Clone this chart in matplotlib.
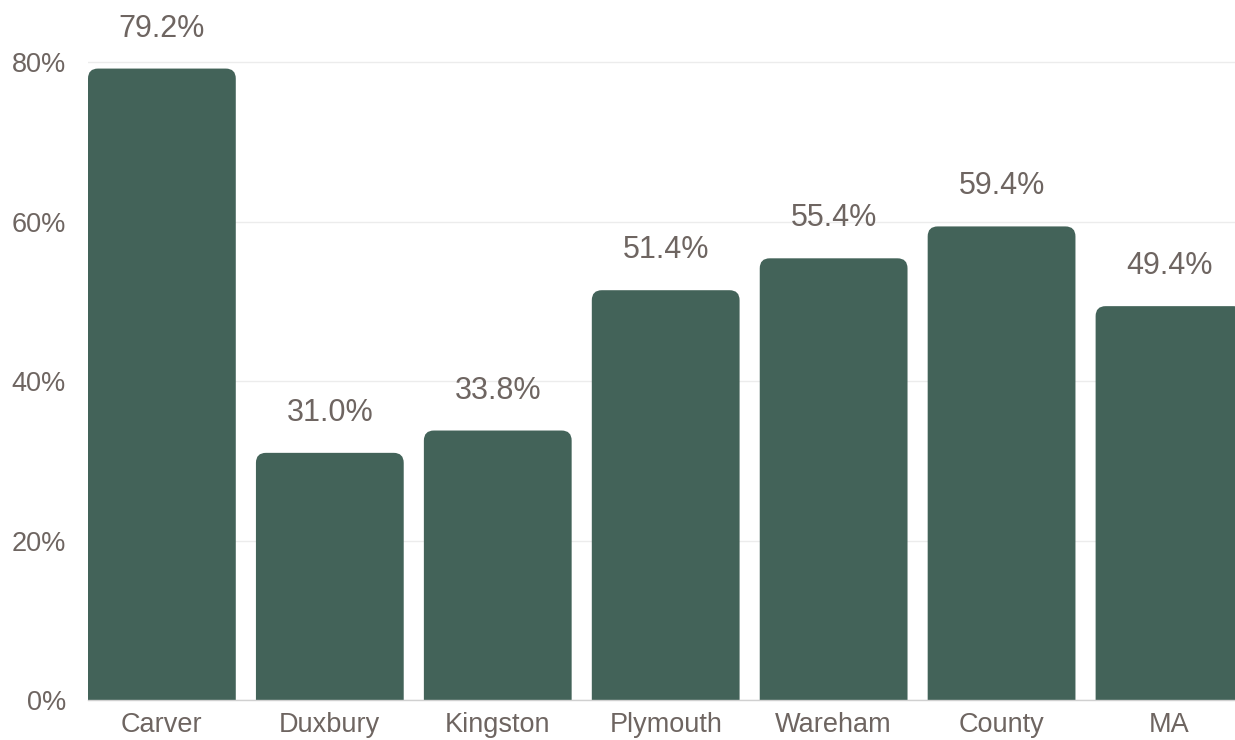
import matplotlib.pyplot as plt
from matplotlib.patches import FancyBboxPatch

plt.rcParams['font.family'] = ['Liberation Sans', 'DejaVu Sans']

towns = ['Carver', 'Duxbury', 'Kingston', 'Plymouth', 'Wareham', 'County', 'MA']
values = [79.2, 31.0, 33.8, 51.4, 55.4, 59.4, 49.4]
yticks = [0, 20, 40, 60, 80]

bar_color = '#436359'
text_color = '#6e6561'

fig = plt.figure(figsize=(12.35, 7.4), dpi=100)
ax = fig.add_axes([88 / 1235, 40 / 740, 1 - 88 / 1235, 1 - 40 / 740])

ymax = 87.8
ax.set_xlim(-0.44, 6.39)
ax.set_ylim(0, ymax)

# px per unit, used to keep the corner rounding circular
px_x = 168.0
px_y = 700 / ymax
r = 10 / px_x

bars = ax.bar(range(len(towns)), values, width=0.88, color=bar_color)
for b in bars:
    x, w, h = b.get_x(), b.get_width(), b.get_height()
    b.set_visible(False)
    p = FancyBboxPatch((x, -3), w, h + 3,
                       boxstyle='round,pad=0,rounding_size=%f' % r,
                       mutation_aspect=px_x / px_y,
                       facecolor=bar_color, edgecolor='none', zorder=2)
    ax.add_patch(p)

for i, v in enumerate(values):
    ax.annotate('%.1f%%' % v, xy=(i, v), xytext=(0, 23), textcoords='offset points',
                ha='center', va='baseline', fontsize=22, color=text_color)

ax.set_yticks(yticks)
ax.set_yticklabels(['%d%%' % t for t in yticks])
ax.set_xticks(range(len(towns)))
ax.set_xticklabels(towns)
ax.tick_params(axis='y', length=0, pad=16, labelsize=19.5, labelcolor=text_color)
ax.tick_params(axis='x', length=0, pad=8.5, labelsize=19.5, labelcolor=text_color)

ax.grid(axis='y', color='#ececec', linewidth=1)
ax.set_axisbelow(True)
for s in ['top', 'right', 'left']:
    ax.spines[s].set_visible(False)
ax.spines['bottom'].set_color('#d0d0d0')
ax.spines['bottom'].set_linewidth(1)

fig.savefig('out.png', dpi=100)
